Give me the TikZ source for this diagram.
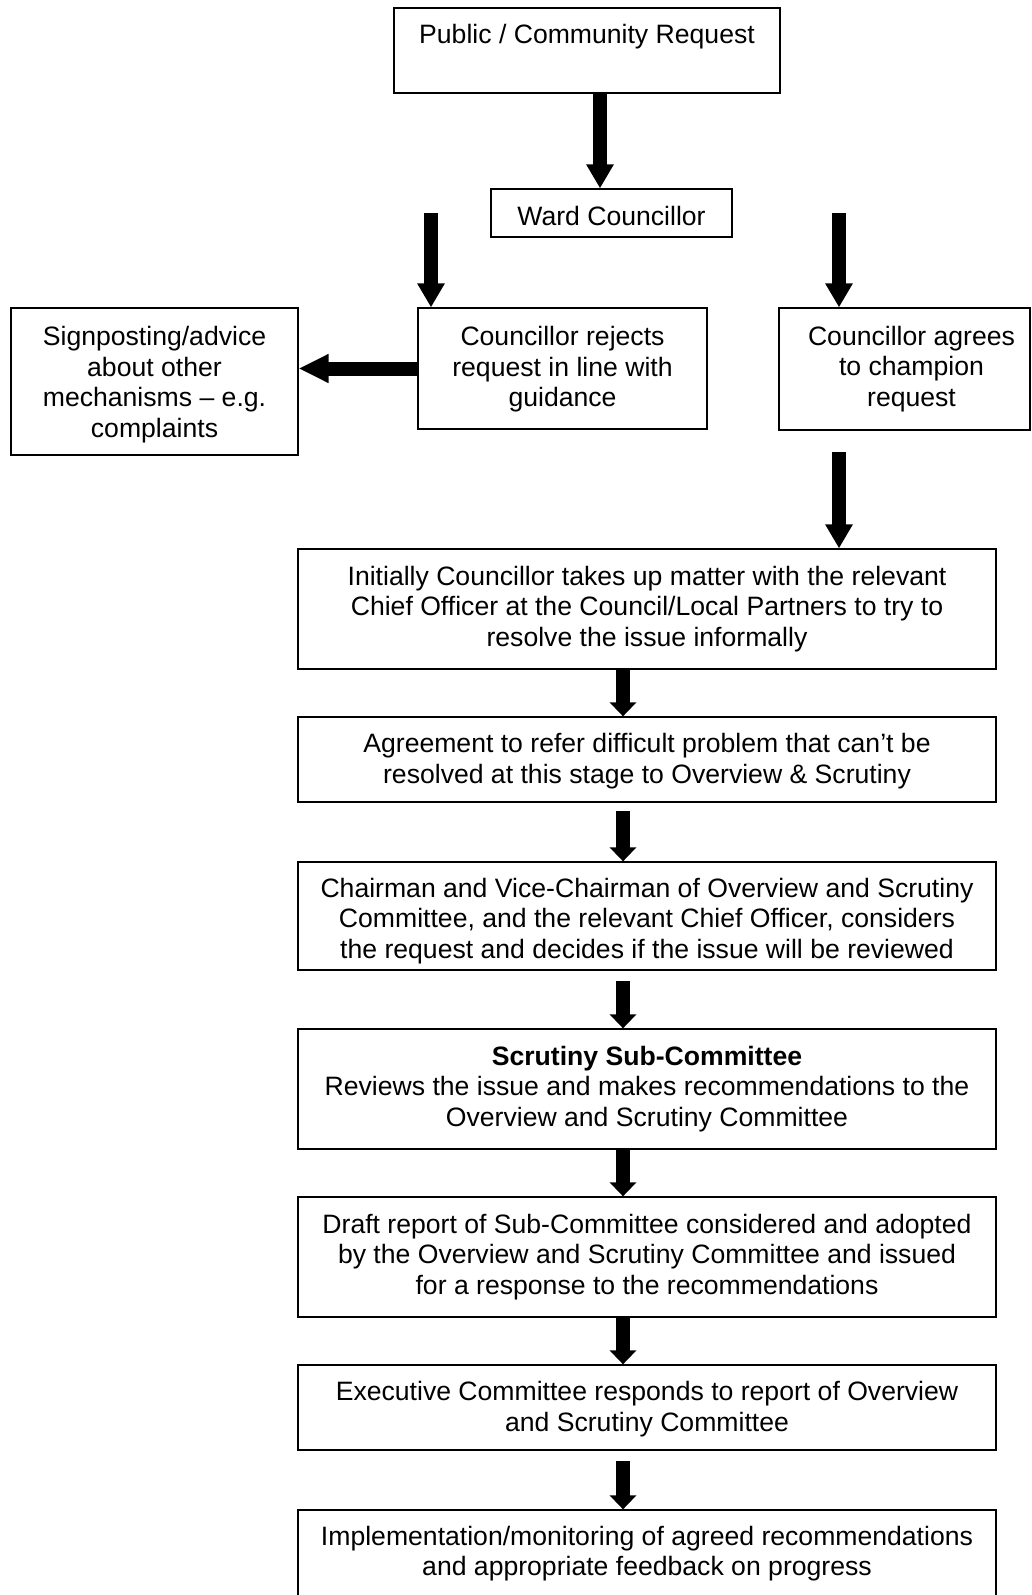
\documentclass[tikz,border=0pt]{standalone}
\usepackage{fontspec}
\setmainfont{Liberation Sans}
\usetikzlibrary{arrows.meta}
\newcommand{\lowerby}[1]{\rule{0pt}{\dimexpr 19.4pt+#1\relax}}
\begin{document}
\begin{tikzpicture}[x=1pt,y=1pt,
  box/.style={draw, line width=1.3pt, inner sep=0pt, align=center,
    font=\fontsize{26.6}{30.5}\selectfont},
  flowarrow/.style={line width=14pt, -{Triangle[width=26pt,length=24pt]}},
  sidearrow/.style={line width=14pt, -{Triangle[width=27pt,length=30pt]}},
  shortarrow/.style={line width=14pt, -{Triangle[width=26pt,length=14pt]}}]
\useasboundingbox (0,0) rectangle (1032,-1595);
\clip (0,0) rectangle (1032,-1595);

% upper part
\node[box, minimum width=386, minimum height=85] (pub) at (587,-50.5)
  {\lowerby{6pt}Public / Community Request\\\strut};
\node[box, minimum width=241, minimum height=48] (ward) at (611.5,-213)
  {\lowerby{6pt}Ward Councillor};
\node[box, minimum width=287, minimum height=147] (sign) at (154.5,-381.5)
  {\lowerby{6pt}Signposting/advice\\about other\\mechanisms – e.g.\\complaints};
\node[box, minimum width=289, minimum height=121] (rej) at (562.5,-368.5)
  {\lowerby{2pt}Councillor rejects\\request in line with\\guidance};
\node[box, minimum width=251, minimum height=122] (agr) at (904.5,-369)
  {\hspace*{14pt}Councillor agrees\\\hspace*{14pt}to champion\\\hspace*{14pt}request};

% lower column
\node[box, minimum width=698, minimum height=120] (init) at (647,-609)
  {Initially Councillor takes up matter with the relevant\\Chief Officer at the Council/Local Partners to try to\\resolve the issue informally};
\node[box, minimum width=698, minimum height=85] (refer) at (647,-759.5)
  {\lowerby{3pt}Agreement to refer difficult problem that can’t be\\resolved at this stage to Overview \& Scrutiny};
\node[box, minimum width=698, minimum height=108] (chair) at (647,-916)
  {\lowerby{10pt}Chairman and Vice-Chairman of Overview and Scrutiny\\Committee, and the relevant Chief Officer, considers\\the request and decides if the issue will be reviewed};
\node[box, minimum width=698, minimum height=120] (scrut) at (647,-1089)
  {\textbf{Scrutiny Sub-Committee}\\Reviews the issue and makes recommendations to the\\Overview and Scrutiny Committee};
\node[box, minimum width=698, minimum height=120] (draft) at (647,-1257)
  {Draft report of Sub-Committee considered and adopted\\by the Overview and Scrutiny Committee and issued\\for a response to the recommendations};
\node[box, minimum width=698, minimum height=85] (exec) at (647,-1407.5)
  {\lowerby{3pt}Executive Committee responds to report of Overview\\and Scrutiny Committee};
\node[box, minimum width=698, minimum height=121] (impl) at (647,-1570.5)
  {Implementation/monitoring of agreed recommendations\\and appropriate feedback on progress\\\strut};

% connectors
\coordinate (c1) at (600,0);
\draw[flowarrow] (pub.south -| c1) -- (c1 |- ward.north);

\coordinate (t2) at (431,-213);
\draw[flowarrow] (t2) -- (t2 |- rej.north);
\coordinate (t3) at (839,-213);
\draw[flowarrow] (t3) -- (t3 |- agr.north);

\draw[sidearrow] (rej.west) -- (rej.west -| sign.east);

\coordinate (t5) at (839,-452);
\draw[flowarrow] (t5) -- (t5 |- init.north);

\coordinate (cx) at (623,0);
\draw[shortarrow] (init.south -| cx) -- (cx |- refer.north);
\coordinate (t7) at (623,-811);
\draw[shortarrow] (t7) -- (t7 |- chair.north);
\coordinate (t8) at (623,-981);
\draw[shortarrow] (t8) -- (t8 |- scrut.north);
\draw[shortarrow] (scrut.south -| cx) -- (cx |- draft.north);
\draw[shortarrow] (draft.south -| cx) -- (cx |- exec.north);
\coordinate (t11) at (623,-1461);
\draw[shortarrow] (t11) -- (t11 |- impl.north);
\end{tikzpicture}
\end{document}
